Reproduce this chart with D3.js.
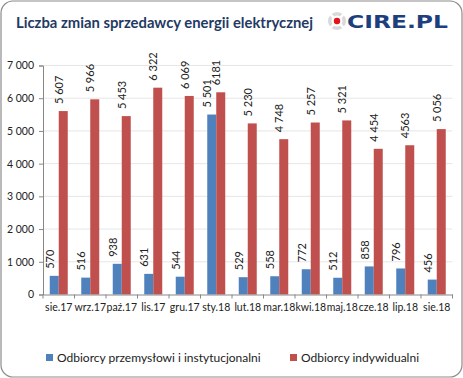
<!DOCTYPE html>
<html><head><meta charset="utf-8">
<script src="https://cdn.jsdelivr.net/npm/d3@7"></script>
<style>html,body{margin:0;padding:0;background:#fff}</style>
</head><body>
<svg id="c" width="463" height="378"></svg>
<script>
const categories = ["sie.17","wrz.17","paź.17","lis.17","gru.17","sty.18","lut.18","mar.18","kwi.18","maj.18","cze.18","lip.18","sie.18"];
const industrial = [570,516,938,631,544,5501,529,558,772,512,858,796,456];
const industrialLabels = ["570","516","938","631","544","5 501","529","558","772","512","858","796","456"];
const household = [5607,5966,5453,6322,6069,6181,5230,4748,5257,5321,4454,4563,5056];
const householdLabels = ["5 607","5 966","5 453","6 322","6 069","6181","5 230","4 748","5 257","5 321","4 454","4563","5 056"];
const yTicks = [0,1000,2000,3000,4000,5000,6000,7000];
const seriesNames = ["Odbiorcy przemysłowi i instytucjonalni","Odbiorcy indywidualni"];
const colors = ["#4F81BD","#C0504D"];

const svg = d3.select("#c");
const font = "Lato, 'Open Sans', sans-serif";

svg.append("rect").attr("x",1).attr("y",1).attr("width",461).attr("height",376)
  .attr("rx",12).attr("fill","#fff").attr("stroke","#8c8c8c").attr("stroke-width",1.2);

svg.append("text").attr("x",16).attr("y",28).attr("font-family",font).attr("font-weight","bold")
  .attr("font-size",14.5).attr("fill","#1f3a63").attr("textLength",297).attr("lengthAdjust","spacingAndGlyphs")
  .text("Liczba zmian sprzedawcy energii elektrycznej");

// logo
const lg = svg.append("g").attr("transform","translate(337,21)");
lg.append("circle").attr("r",9).attr("fill","#d9d9d9");
lg.append("circle").attr("r",5.5).attr("fill","#fff");
[0,90,180,270].forEach(a=>lg.append("rect").attr("x",-1.2).attr("y",-10).attr("width",2.4).attr("height",5)
  .attr("fill","#fff").attr("transform",`rotate(${a+45})`));
lg.append("circle").attr("r",3.2).attr("fill","#e3141b");
svg.append("text").attr("x",347).attr("y",28).attr("font-family","'DejaVu Sans', sans-serif").attr("font-weight","bold")
  .attr("font-size",18).attr("fill","#1d3f7d").attr("textLength",101).attr("lengthAdjust","spacingAndGlyphs").text("CIRE.PL");

const x0 = 43, x1 = 452.5, yTop = 65.5, yBot = 294.5;
const x = d3.scaleBand().domain(categories).range([x0,x1]).padding(0);
const y = d3.scaleLinear().domain([0,7000]).range([yBot,yTop]);
const bw = 9;

// gridlines
svg.append("g").selectAll("line").data(yTicks.filter(d=>d>0)).join("line")
  .attr("x1",x0).attr("x2",x1).attr("y1",d=>y(d)).attr("y2",d=>y(d))
  .attr("stroke","#e6e6e6").attr("stroke-width",1);

const yAxis = svg.append("g").attr("transform",`translate(${x0},0)`)
  .call(d3.axisLeft(y).tickValues(yTicks).tickSize(4).tickPadding(5).tickFormat(d=>d3.format(",")(d).replace(",", " ")));
yAxis.selectAll("text").attr("font-family",font).attr("font-size",10.5).attr("fill","#222");
yAxis.selectAll("line,path").attr("stroke","#888");

const series = [industrial, household];
const labels = [industrialLabels, householdLabels];
series.forEach((vals,si)=>{
  const g = svg.append("g");
  g.selectAll("rect").data(vals).join("rect")
    .attr("x",(d,i)=>x(categories[i]) + x.bandwidth()/2 - bw + si*bw)
    .attr("width",bw).attr("y",d=>y(d)).attr("height",d=>yBot-y(d)).attr("fill",colors[si]);
  g.selectAll("text").data(vals).join("text")
    .attr("transform",(d,i)=>`translate(${x(categories[i]) + x.bandwidth()/2 - bw + si*bw + bw/2 - 0.5},${y(d)-7}) rotate(-90)`)
    .attr("font-family",font).attr("font-size",11).attr("fill","#222")
    .text((d,i)=>labels[si][i]);
});

const xAxis = svg.append("g").attr("transform",`translate(0,${yBot})`)
  .call(d3.axisBottom(x).tickSize(0).tickPadding(9));
xAxis.selectAll("text").attr("font-family",font).attr("font-size",10.5).attr("fill","#222");
xAxis.select("path").attr("stroke","#888");
xAxis.selectAll(".tk").data(categories.concat([null])).join("line")
  .attr("x1",(d,i)=>x0+i*x.step()).attr("x2",(d,i)=>x0+i*x.step()).attr("y1",0).attr("y2",4).attr("stroke","#888");

// legend
const leg = [{x:46, t:seriesNames[0], c:colors[0]},{x:290, t:seriesNames[1], c:colors[1]}];
leg.forEach(l=>{
  svg.append("rect").attr("x",l.x).attr("y",354).attr("width",7).attr("height",7).attr("fill",l.c);
  svg.append("text").attr("x",l.x+11).attr("y",362).attr("font-family",font).attr("font-size",12).attr("fill","#222").text(l.t);
});
</script>
</body></html>
